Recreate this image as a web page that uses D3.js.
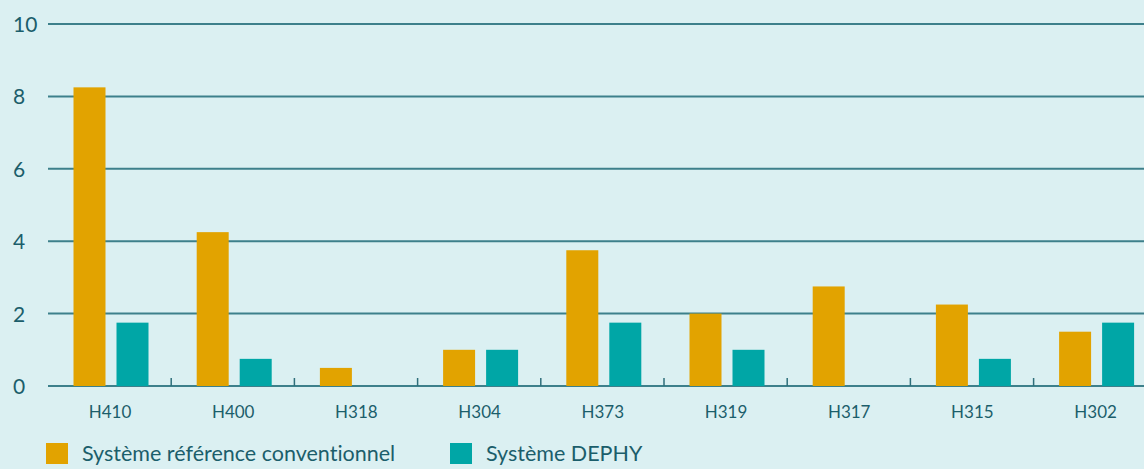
<!DOCTYPE html>
<html>
<head>
<meta charset="utf-8">
<script src="https://cdnjs.cloudflare.com/ajax/libs/d3/7.8.5/d3.min.js"></script>
<style>
	body {margin: 0; background: #dbf0f2;}
	svg {display: block;}
	text {font-family: Lato, "Open Sans", sans-serif; fill: #1b5e6b; font-variant-ligatures: none;}
</style>
</head>
<body>
<svg></svg>
<script>
var categories = ['H410', 'H400', 'H318', 'H304', 'H373', 'H319', 'H317', 'H315', 'H302']
var series = ['Système référence conventionnel', 'Système DEPHY']
var reference = [8.25, 4.25, 0.5, 1, 3.75, 2, 2.75, 2.25, 1.5]
var dephy = [1.75, 0.75, 0, 1, 1.75, 1, 0, 0.75, 1.75]
var yTicks = [0, 2, 4, 6, 8, 10]
var colors = ['#e2a300', '#00a6a6']

var width = 1144, height = 469

var svg = d3.select('svg').attr('width', width).attr('height', height)

var x = d3.scaleBand().domain(categories).range([48, 48 + 9 * 123.2])
var xInner = d3.scaleBand().domain(series).range([25.5, 100.5]).paddingInner(0.256)
var y = d3.scaleLinear().domain([0, 10]).range([386, 24])

// gridlines
svg.append('g')
	.selectAll('line')
	.data(yTicks)
	.enter().append('line')
	.attr('x1', 48).attr('x2', width)
	.attr('y1', function(d) {return y(d)})
	.attr('y2', function(d) {return y(d)})
	.attr('stroke', '#3d808b')
	.attr('stroke-width', 2)

// y labels
svg.append('g')
	.selectAll('text')
	.data(yTicks)
	.enter().append('text')
	.attr('x', 13)
	.attr('y', function(d) {return y(d) + 8})
	.style('font-size', '21px')
	.text(function(d) {return d})

// bars
var rows = categories.map(function(c, i) {return {cat: c, values: [reference[i], dephy[i]]}})
var groups = svg.append('g').selectAll('g')
	.data(rows)
	.enter().append('g')
	.attr('transform', function(d) {return 'translate(' + x(d.cat) + ',0)'})

groups.selectAll('rect')
	.data(function(d) {return d.values.map(function(v, k) {return {s: series[k], v: v, k: k}})})
	.enter().append('rect')
	.attr('x', function(d) {return xInner(d.s)})
	.attr('width', xInner.bandwidth())
	.attr('y', function(d) {return y(d.v)})
	.attr('height', function(d) {return y(0) - y(d.v)})
	.attr('fill', function(d) {return colors[d.k]})

// x axis ticks between groups
svg.append('g')
	.selectAll('line')
	.data(categories.slice(1))
	.enter().append('line')
	.attr('x1', function(d) {return x(d)})
	.attr('x2', function(d) {return x(d)})
	.attr('y1', y(0) - 8).attr('y2', y(0))
	.attr('stroke', '#2f6f7b')
	.attr('stroke-width', 1.5)

svg.append('g')
	.selectAll('text')
	.data(categories)
	.enter().append('text')
	.attr('x', function(d) {return x(d) + 62})
	.attr('y', 418)
	.attr('text-anchor', 'middle')
	.style('font-size', '17px')
	.text(function(d) {return d})

// legend
var legendX = [46, 450]
var legend = svg.append('g').selectAll('g')
	.data(series)
	.enter().append('g')
	.attr('transform', function(d, i) {return 'translate(' + legendX[i] + ',443)'})
legend.append('rect')
	.attr('width', 22).attr('height', 21)
	.attr('fill', function(d, i) {return colors[i]})
legend.append('text')
	.attr('x', 36).attr('y', 18)
	.style('font-size', '21.5px')
	.text(function(d) {return d})
</script>
</body>
</html>
